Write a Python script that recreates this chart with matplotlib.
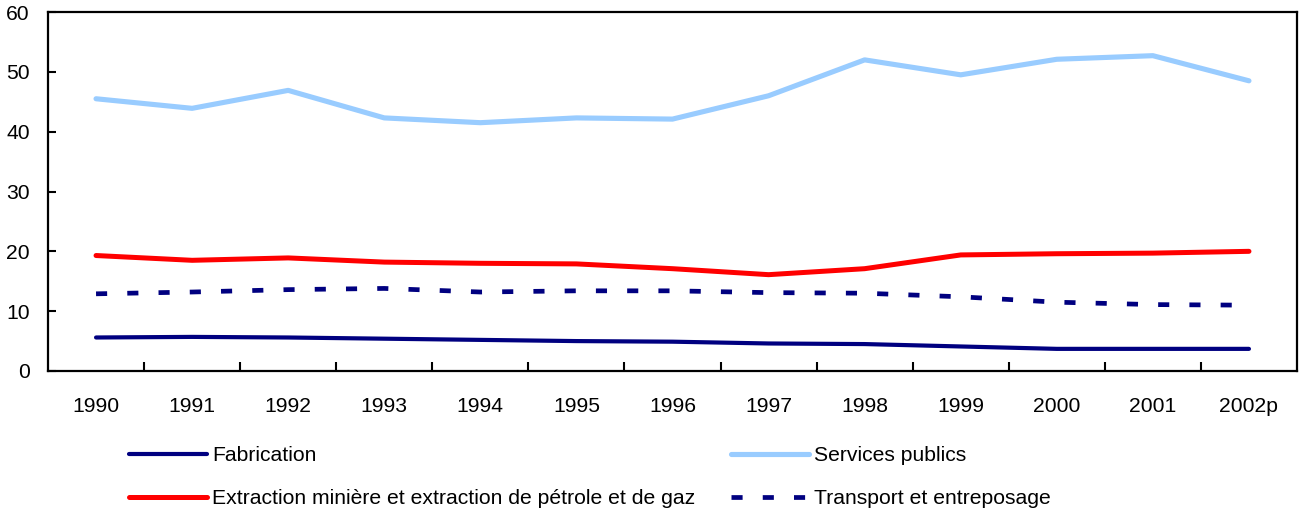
import matplotlib
matplotlib.use("Agg")
import matplotlib.pyplot as plt

plt.rcParams['font.family'] = ['Liberation Sans', 'DejaVu Sans']
plt.rcParams['lines.scale_dashes'] = False

years = ['1990', '1991', '1992', '1993', '1994', '1995', '1996',
         '1997', '1998', '1999', '2000', '2001', '2002p']
fabrication = [5.6, 5.7, 5.6, 5.4, 5.2, 5.0, 4.9, 4.6, 4.5, 4.1, 3.7, 3.7, 3.7]
services = [45.5, 43.9, 46.9, 42.3, 41.5, 42.3, 42.1, 46.0, 52.0, 49.5, 52.1, 52.7, 48.5]
extraction = [19.3, 18.5, 18.9, 18.2, 18.0, 17.9, 17.1, 16.1, 17.1, 19.4, 19.6, 19.7, 20.0]
transport = [12.9, 13.2, 13.6, 13.8, 13.2, 13.4, 13.4, 13.1, 13.0, 12.4, 11.5, 11.1, 11.0]

navy = '#000080'
light_blue = '#99CCFF'
red = '#FF0000'

fig = plt.figure(figsize=(12.99, 5.12), dpi=100)
ax = fig.add_axes([48/1299, 1 - 371/512, (1297 - 48)/1299, (371 - 12)/512])

x = list(range(len(years)))
l_fab, = ax.plot(x, fabrication, color=navy, lw=3.0, solid_capstyle='round')
l_ext, = ax.plot(x, extraction, color=red, lw=3.6, solid_capstyle='round')
l_srv, = ax.plot(x, services, color=light_blue, lw=3.7, solid_capstyle='round')
l_trn, = ax.plot(x, transport, color=navy, lw=3.4, dashes=(8, 14.5))

ax.set_xlim(-0.5, len(years) - 0.5)
ax.set_ylim(0, 60)
ax.set_yticks(range(0, 61, 10))
ax.tick_params(axis='y', direction='in', length=6, width=1.5, pad=13, labelsize=15.2)

ax.set_xticks([i + 0.5 for i in range(len(years) - 1)])
ax.set_xticklabels([])
ax.set_xticks(x, minor=True)
ax.set_xticklabels(years, minor=True)
ax.tick_params(axis='x', which='major', direction='in', length=6.5, width=1.5)
ax.tick_params(axis='x', which='minor', direction='in', length=0, pad=19, labelsize=15.2)

for s in ax.spines.values():
    s.set_linewidth(1.6)

fig.legend([l_fab, l_ext, l_srv, l_trn],
           ['Fabrication', 'Extraction minière et extraction de pétrole et de gaz',
            'Services publics', 'Transport et entreposage'],
           ncol=2, loc='upper left', bbox_to_anchor=(129/1299, 1 - 446/512),
           frameon=False, fontsize=15.2, handlelength=3.7, handletextpad=0.24,
           columnspacing=1.67, labelspacing=1.15, borderpad=0, borderaxespad=0)

fig.savefig('out.png', dpi=100)
